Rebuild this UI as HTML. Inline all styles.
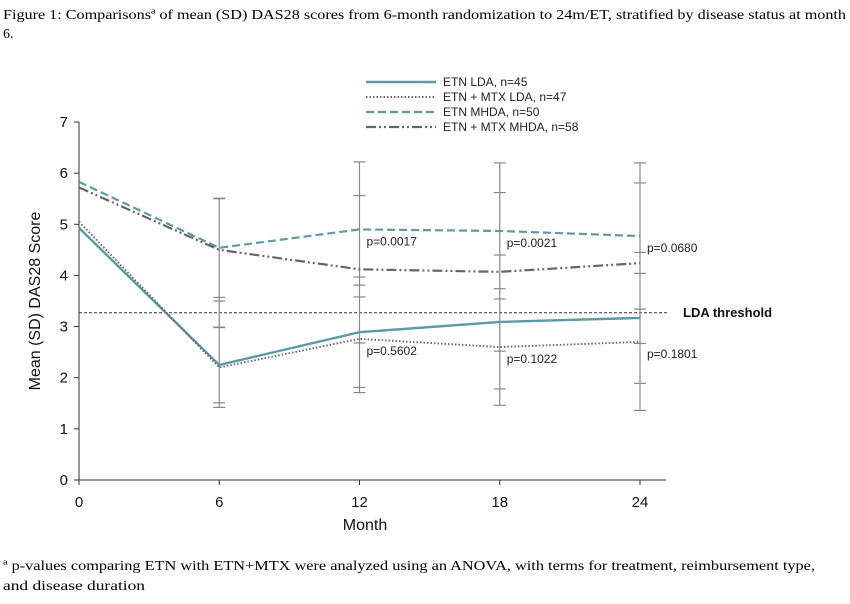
<!DOCTYPE html>
<html><head><meta charset="utf-8"><style>
html,body{margin:0;padding:0;background:#fff;}
svg{display:block;}
</style></head><body>
<svg id="chart" width="850" height="604" xmlns="http://www.w3.org/2000/svg">
<text x="3" y="19" font-family="Liberation Serif, serif" font-size="14" textLength="843" lengthAdjust="spacingAndGlyphs">Figure 1: Comparisonsª of mean (SD) DAS28 scores from 6-month randomization to 24m/ET, stratified by disease status at month</text>
<text x="3" y="38" font-family="Liberation Serif, serif" font-size="14">6.</text>
<g id="legend"></g>
<g id="axes"></g>
<g id="errs"></g>
<g id="lines"></g>
<g id="labels"></g>
<text x="40" y="301" transform="rotate(-90 40 301)" text-anchor="middle" font-family="Liberation Sans, sans-serif" font-size="16" fill="#111">Mean (SD) DAS28 Score</text>
<text x="365" y="530" text-anchor="middle" font-family="Liberation Sans, sans-serif" font-size="16" fill="#111">Month</text>
<text x="683" y="317" font-family="Liberation Sans, sans-serif" font-size="13" font-weight="bold" fill="#111">LDA threshold</text>
<text x="3" y="570" font-family="Liberation Serif, serif" font-size="14" textLength="812" lengthAdjust="spacingAndGlyphs">ª p-values comparing ETN with ETN+MTX were analyzed using an ANOVA, with terms for treatment, reimbursement  type,</text>
<text x="3" y="590" font-family="Liberation Serif, serif" font-size="14" textLength="142" lengthAdjust="spacingAndGlyphs">and disease duration</text>
</svg>
<script>
const months = [0, 6, 12, 18, 24];
const xTicks = [0, 6, 12, 18, 24];
const yTicks = [0, 1, 2, 3, 4, 5, 6, 7];
const seriesNames = ["ETN LDA, n=45", "ETN + MTX LDA, n=47", "ETN MHDA, n=50", "ETN + MTX MHDA, n=58"];
const etnLda = [4.93, 2.25, 2.89, 3.09, 3.17];
const mtxLda = [5.05, 2.2, 2.76, 2.6, 2.7];
const etnMhda = [5.83, 4.54, 4.9, 4.87, 4.77];
const mtxMhda = [5.72, 4.5, 4.12, 4.07, 4.24];
const sdEtnLda = [0, 0.74, 1.08, 1.31, 1.28];
const sdMtxLda = [0, 0.78, 1.05, 1.14, 1.34];
const sdEtnMhda = [0, 0.97, 1.32, 1.33, 1.43];
const sdMtxMhda = [0, 1.0, 1.44, 1.55, 1.57];
const pHigh = ["", "", "p=0.0017", "p=0.0021", "p=0.0680"];
const pLow = ["", "", "p=0.5602", "p=0.1022", "p=0.1801"];
const ldaThreshold = 3.27;

const NS = "http://www.w3.org/2000/svg";
const X = m => 79 + (m / 24) * 561;
const Y = v => 480 - v * 51.14;
function mk(tag, attrs, parent) {
  const e = document.createElementNS(NS, tag);
  for (const k in attrs) e.setAttribute(k, attrs[k]);
  document.getElementById(parent).appendChild(e);
  return e;
}
const teal = "#5d9aa6", grey = "#666";
const styles = [
  {stroke: teal, w: 2.4, dash: ""},
  {stroke: grey, w: 1.9, dash: "1.5 2"},
  {stroke: teal, w: 2.2, dash: "8 4"},
  {stroke: grey, w: 2.2, dash: "10 3 2 3 2 3"}
];
const series = [etnLda, mtxLda, etnMhda, mtxMhda];
const sds = [sdEtnLda, sdMtxLda, sdEtnMhda, sdMtxMhda];

let e = mk("line", {x1: 79, y1: Y(7), x2: 79, y2: 480, stroke: "#333", "stroke-width": 1}, "axes");


e = mk("line", {x1: 79, y1: 480, x2: 666, y2: 480, stroke: "#333", "stroke-width": 1}, "axes");


yTicks.forEach(t => {
  mk("line", {x1: 74, y1: Y(t), x2: 79, y2: Y(t), stroke: "#333"}, "axes");
  const tx = mk("text", {x: 68, y: Y(t) + 5, "text-anchor": "end", "font-family": "Liberation Sans, sans-serif", "font-size": 15, fill: "#111"}, "axes");
  tx.textContent = t;
  
  
});
xTicks.forEach(t => {
  mk("line", {x1: X(t), y1: 480, x2: X(t), y2: 485, stroke: "#333"}, "axes");
  const tx = mk("text", {x: X(t), y: 507, "text-anchor": "middle", "font-family": "Liberation Sans, sans-serif", "font-size": 15, fill: "#111"}, "axes");
  tx.textContent = t;
  
  
});
e = mk("line", {x1: 79, y1: Y(ldaThreshold), x2: 668, y2: Y(ldaThreshold), stroke: "#333", "stroke-width": 1, "stroke-dasharray": "3 2"}, "axes");



months.forEach((m, i) => {
  let lo = Infinity, hi = -Infinity;
  series.forEach((s, k) => {
    if (sds[k][i] > 0) { lo = Math.min(lo, s[i] - sds[k][i]); hi = Math.max(hi, s[i] + sds[k][i]); }
  });
  if (hi === -Infinity) return;
  const ln = mk("line", {x1: X(m), y1: Y(hi), x2: X(m), y2: Y(lo), stroke: "#888", "stroke-width": 1.2}, "errs");
  
  
  series.forEach((s, k) => {
    if (sds[k][i] <= 0) return;
    [s[i] + sds[k][i], s[i] - sds[k][i]].forEach(v => {
      mk("line", {x1: X(m) - 6, y1: Y(v), x2: X(m) + 6, y2: Y(v), stroke: "#888", "stroke-width": 1.2}, "errs");
    });
  });
});

series.forEach((s, k) => {
  const st = styles[k];
  const p = mk("polyline", {points: s.map((v, i) => X(months[i]) + "," + Y(v)).join(" "), fill: "none", stroke: st.stroke, "stroke-width": st.w, "stroke-dasharray": st.dash}, "lines");
  
  
  const ly = 82 + k * 15;
  mk("line", {x1: 366, y1: ly, x2: 436, y2: ly, stroke: st.stroke, "stroke-width": st.w, "stroke-dasharray": st.dash}, "legend");
  const lt = mk("text", {x: 443, y: ly + 4, "font-family": "Liberation Sans, sans-serif", "font-size": 12, fill: "#222"}, "legend");
  lt.textContent = seriesNames[k];
  
  
});

months.forEach((m, i) => {
  if (pHigh[i]) {
    const t = mk("text", {x: X(m) + 7, y: Y(etnMhda[i]) + 16, "font-family": "Liberation Sans, sans-serif", "font-size": 12, fill: "#222"}, "labels");
    t.textContent = pHigh[i];
    
    
  }
  if (pLow[i]) {
    const t = mk("text", {x: X(m) + 7, y: Y(mtxLda[i]) + 16, "font-family": "Liberation Sans, sans-serif", "font-size": 12, fill: "#222"}, "labels");
    t.textContent = pLow[i];
    
    
  }
});
</script>
</body></html>
